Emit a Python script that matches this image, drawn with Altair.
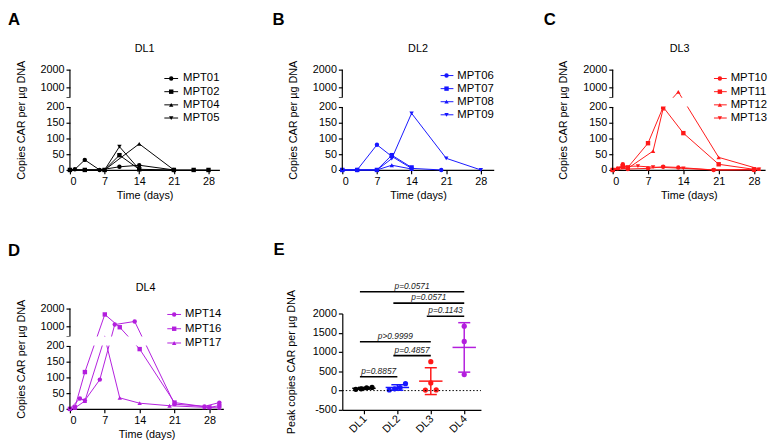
import altair as alt
import pandas as pd

FONT = "Liberation Sans"
BLACK = "#000000"
BLUE = "#1616FF"
RED = "#FF1818"
PURPLE = "#B31EDD"
SHAPES = ["circle", "square", "triangle-up", "triangle-down"]

# ---------------- data ----------------
a_names = ["MPT01", "MPT02", "MPT04", "MPT05"]
a_days = [[0, 1, 3, 6, 10, 14, 21], [0, 3, 7, 10, 14, 21, 25, 28], [0, 7, 14, 21], [0, 7, 10, 14]]
a_vals = [[0, 2, 32, 0, 10, 15, 0], [0, 0, 0, 47, 2, 0, 0, 0], [0, 0, 83, 0], [0, 0, 74, 2]]

b_names = ["MPT06", "MPT07", "MPT08", "MPT09"]
b_days = [[0, 3, 7, 10, 14, 20], [0, 3, 7, 10, 14], [0, 3, 7, 10, 14], [0, 3, 7, 10, 14, 21, 28]]
b_vals = [[0, 0, 80, 43, 5, 0], [0, 0, 0, 47, 8], [0, 0, 0, 15, 3], [0, 0, 0, 36, 180, 37, 0]]

c_names = ["MPT10", "MPT11", "MPT12", "MPT13"]
c_days = [[0, 1, 2, 3, 7, 10, 13, 20, 28], [0, 2, 3, 7, 10, 14, 21, 28],
          [0, 3, 8, 10, 13, 21, 29], [0, 2, 5, 8, 10, 14, 20, 29]]
c_vals = [[0, 5, 18, 3, 5, 10, 8, 0, 0], [0, 10, 8, 85, 200, 117, 18, 2],
          [0, 5, 60, 195, 750, 40, 3], [0, 12, 12, 9, 8, 5, 0, 2]]

d_names = ["MPT14", "MPT16", "MPT17"]
d_days = [[0, 2, 3, 6, 9, 13, 21, 27, 30], [0, 1, 3, 7, 10, 14, 21, 28, 30], [0, 1, 3, 7, 10, 14, 20, 27, 30]]
d_vals = [[0, 33, 27, 93, 1100, 1275, 15, 8, 20], [0, 5, 117, 1670, 950, 190, 20, 5, 10],
          [0, 3, 25, 415, 35, 18, 10, 5, 3]]

dl_names = ["DL1", "DL2", "DL3", "DL4"]
dl_colors = [BLACK, BLUE, RED, PURPLE]
dl_peaks = [[32, 47, 83, 74], [80, 47, 15, 180], [18, 200, 750, 12], [1670, 1275, 415]]

p_pairs = [(1, 4), (2, 4), (3, 4), (1, 3), (2, 3), (1, 2)]
p_labels = ["p=0.0571", "p=0.0571", "p=0.1143", "p>0.9999", "p=0.4857", "p=0.8857"]
p_levels = [2566, 2270, 1929, 1265, 908, 357]

day_ticks = [0, 7, 14, 21, 28]
copy_ticks = [0, 50, 100, 150, 200, 450, 1000, 2000]
peak_ticks = [-500, 0, 500, 1000, 1500, 2000]

H = 102
ONE = pd.DataFrame({"k": [0]})


def time_panel(letter, title, names, days, vals, color, width, xmax, leg, letter_xy, title_x):
    rows = [dict(series=n, day=d, value=v)
            for n, ds, vs in zip(names, days, vals) for d, v in zip(ds, vs)]
    df = pd.DataFrame(rows)
    xs = alt.Scale(domain=[0, xmax], nice=False, zero=False)
    ys = alt.Scale(domain=[0, 200, 450, 2000], range=[H, 38, 28, 0], nice=False, zero=False)
    xax = alt.Axis(values=day_ticks, tickCount=30, title="Time (days)", titlePadding=3,
                   labelOverlap=False, labelExpr="'' + datum.value")
    yax = alt.Axis(values=copy_ticks, tickCount=30, domain=False,
                   labelExpr="datum.value == 450 ? '' : '' + datum.value",
                   labelOverlap=False, title="Copies CAR per µg DNA", titlePadding=14)
    X = alt.X("day:Q", scale=xs, axis=xax)
    Y = alt.Y("value:Q", scale=ys, axis=yax)
    shape_scale = alt.Scale(domain=names, range=SHAPES[:len(names)])
    lines = alt.Chart(df).mark_line(color=color, strokeWidth=1).encode(
        x=X, y=Y, detail="series:N")
    pts = alt.Chart(df).mark_point(filled=True, opacity=1, color=color, size=20).encode(
        x=X, y=Y, shape=alt.Shape("series:N", scale=shape_scale, legend=None))
    mask = alt.Chart(ONE).mark_rect(color="white").encode(
        x=alt.datum(-1.2), x2=alt.datum(xmax + 1), y=alt.datum(212), y2=alt.datum(438))
    seg_lo = alt.Chart(ONE).mark_rule(color="black", strokeWidth=1.2).encode(
        x=alt.datum(0), y=alt.datum(0), y2=alt.datum(200))
    seg_hi = alt.Chart(ONE).mark_rule(color="black", strokeWidth=1.2).encode(
        x=alt.datum(0), y=alt.datum(450), y2=alt.datum(2000))
    layers = [lines, pts, mask, seg_lo, seg_hi]
    lx0, lx1, lxm, ltx, ly0, ldy = leg
    for i, n in enumerate(names):
        py = ly0 + i * ldy
        layers.append(alt.Chart(ONE).mark_rule(color=color, strokeWidth=1).encode(
            x=alt.value(lx0), x2=alt.value(lx1), y=alt.value(py)))
        layers.append(alt.Chart(ONE).mark_point(
            shape=SHAPES[i], filled=True, opacity=1, color=color, size=20).encode(
            x=alt.value(lxm), y=alt.value(py)))
        layers.append(alt.Chart(ONE).mark_text(
            text=n, align="left", baseline="middle", font=FONT, fontSize=11.5, color="black").encode(
            x=alt.value(ltx), y=alt.value(py)))
    layers.append(alt.Chart(ONE).mark_text(
        text=letter, align="left", baseline="top", font=FONT, fontSize=17, fontWeight="bold",
        color="black").encode(x=alt.value(letter_xy[0]), y=alt.value(letter_xy[1])))
    layers.append(alt.Chart(ONE).mark_text(
        text=title, align="center", baseline="middle", font=FONT, fontSize=11,
        color="black").encode(x=alt.value(title_x), y=alt.value(-21)))
    return alt.layer(*layers).properties(width=width, height=H)


A = time_panel("A", "DL1", a_names, a_days, a_vals, BLACK, 152, 30.2,
               (96, 110, 103, 115, 9, 13.4), (-63, -58), 76)
B = time_panel("B", "DL2", b_names, b_days, b_vals, BLUE, 154, 30.6,
               (100, 113, 106, 117, 6, 13.3), (-71, -58), 77)
C = time_panel("C", "DL3", c_names, c_days, c_vals, RED, 155, 30.2,
               (103, 116, 109, 120, 9, 13.4), (-70, -58), 68)
D = time_panel("D", "DL4", d_names, d_days, d_vals, PURPLE, 156, 30.8,
               (99, 113, 106, 117, 6, 14.5), (-63, -66), 77)

# ---------------- panel E ----------------
PX_PER_UNIT = 34.0
YPX = 98.0 / 2500.0


def swarm(values, d=5.5):
    order = sorted(range(len(values)), key=lambda i: values[i])
    offs = [0.0] * len(values)
    clusters, cur = [], [order[0]]
    for a, b in zip(order[:-1], order[1:]):
        if (values[b] - values[a]) * YPX < 5:
            cur.append(b)
        else:
            clusters.append(cur)
            cur = [b]
    clusters.append(cur)
    for cl in clusters:
        n = len(cl)
        if n == 1:
            continue
        step = d if n > 2 else 2 * d
        for j, idx in enumerate(cl):
            offs[idx] = (j - (n - 1) / 2) * step
    return offs


prow, srow = [], []
for i, (g, vals) in enumerate(zip(dl_names, dl_peaks)):
    c = i + 1
    for v, o in zip(vals, swarm(vals)):
        prow.append(dict(group=g, x=c + o / PX_PER_UNIT, value=v))
    s = pd.Series(vals)
    m, sd = float(s.mean()), float(s.std())
    srow.append(dict(group=g, c=c, mean=m, lo=m - sd, hi=m + sd,
                     ml=c - 0.35, mr=c + 0.35, cl=c - 0.18, cr=c + 0.18))
pdf = pd.DataFrame(prow)
sdf = pd.DataFrame(srow)
bdf = pd.DataFrame({
    "xl": [a - 0.12 for a, b in p_pairs],
    "xr": [b + 0.0 for a, b in p_pairs],
    "xm": [(a - 0.12 + b) / 2 for a, b in p_pairs],
    "level": p_levels, "label": p_labels})
ldf = pd.DataFrame({"c": [1, 2, 3, 4], "name": dl_names})

exs = alt.Scale(domain=[0.353, 4.5], nice=False, zero=False)
eys = alt.Scale(domain=[-500, 2000], range=[103, 5], nice=False, zero=False)
xaxis = alt.Axis(values=[1, 2, 3, 4], tickCount=30, labels=False, title=None)
yaxis = alt.Axis(values=peak_ticks, tickCount=30, title="Peak copies CAR per µg DNA", titlePadding=16,
                 labelExpr="'' + datum.value", labelOverlap=False)
col = alt.Color("group:N", scale=alt.Scale(domain=dl_names, range=dl_colors), legend=None)

pts = alt.Chart(pdf).mark_circle(size=28, opacity=1).encode(
    x=alt.X("x:Q", scale=exs, axis=xaxis), y=alt.Y("value:Q", scale=eys, axis=yaxis), color=col)
zero = alt.Chart(ONE).mark_rule(color="black", strokeWidth=1, strokeDash=[1.5, 2]).encode(
    x=alt.datum(0.353), x2=alt.datum(4.5), y=alt.datum(0))
mean = alt.Chart(sdf).mark_rule(strokeWidth=1.5).encode(
    x=alt.X("ml:Q", scale=exs, axis=xaxis), x2="mr:Q", y=alt.Y("mean:Q", scale=eys, axis=yaxis), color=col)
sdl = alt.Chart(sdf).mark_rule(strokeWidth=1.5).encode(
    x=alt.X("c:Q", scale=exs, axis=xaxis), y=alt.Y("lo:Q", scale=eys, axis=yaxis), y2="hi:Q", color=col)
caphi = alt.Chart(sdf).mark_rule(strokeWidth=1.5).encode(
    x=alt.X("cl:Q", scale=exs, axis=xaxis), x2="cr:Q", y=alt.Y("hi:Q", scale=eys, axis=yaxis), color=col)
caplo = alt.Chart(sdf).mark_rule(strokeWidth=1.5).encode(
    x=alt.X("cl:Q", scale=exs, axis=xaxis), x2="cr:Q", y=alt.Y("lo:Q", scale=eys, axis=yaxis), color=col)
bars = alt.Chart(bdf).mark_rule(strokeWidth=1.6, color="black").encode(
    x=alt.X("xl:Q", scale=exs, axis=xaxis), x2="xr:Q", y=alt.Y("level:Q", scale=eys, axis=yaxis))
ptxt = alt.Chart(bdf).mark_text(font=FONT, fontSize=8.5, fontStyle="italic", baseline="bottom",
                                dy=-1, color="#222222").encode(
    x=alt.X("xm:Q", scale=exs, axis=xaxis), y=alt.Y("level:Q", scale=eys, axis=yaxis), text="label:N")
xlab = alt.Chart(ldf).mark_text(font=FONT, fontSize=11, angle=315, align="right", baseline="middle",
                                color="black", dx=2).encode(
    x=alt.X("c:Q", scale=exs, axis=xaxis), y=alt.value(112), text="name:N")
eletter = alt.Chart(ONE).mark_text(
    text="E", align="left", baseline="top", font=FONT, fontSize=17, fontWeight="bold", color="black").encode(
    x=alt.value(-70), y=alt.value(-67))
E = alt.layer(pts, zero, sdl, caphi, caplo, mean, bars, ptxt, xlab, eletter).properties(width=141, height=103)

chart = alt.concat(A, B, C, D, E, columns=3, spacing={"row": 141, "column": 121},
                   bounds="flush", align="each").properties(padding=0).configure_view(
    stroke=None).configure_axis(
    domainColor="black", domainWidth=1.2, tickColor="black", tickWidth=1.2, tickSize=4,
    labelFont=FONT, labelFontSize=11, labelColor="black", labelPadding=2,
    titleFont=FONT, titleFontSize=11, titleFontWeight="normal", titleColor="black", grid=False)

chart.save("out.html", embed_options={"renderer": "svg", "actions": False})
